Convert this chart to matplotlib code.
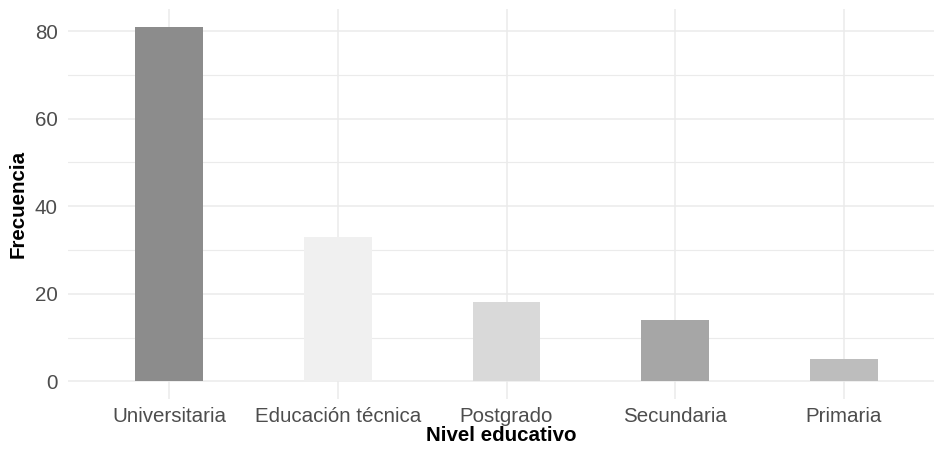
import matplotlib
matplotlib.use("Agg")
import matplotlib.pyplot as plt
import numpy as np

# data
niveles = ["Universitaria", "Educación técnica", "Postgrado", "Secundaria", "Primaria"]
frecuencia = [81, 33, 18, 14, 5]
colores = ["#8c8c8c", "#f0f0f0", "#d9d9d9", "#a6a6a6", "#bdbdbd"]
yticks = [0, 20, 40, 60, 80]
yminor = [10, 30, 50, 70]

plt.rcParams["font.family"] = ["Liberation Sans", "DejaVu Sans"]

fig = plt.figure(figsize=(9.34, 4.5), dpi=100)
ax = fig.add_axes([68 / 934, 1 - 399 / 450, (934 - 68) / 934, 390 / 450])

x = np.arange(1, len(niveles) + 1)
ax.bar(x, frecuencia, width=0.4, color=colores, zorder=2)

ax.set_xlim(0.4, 5 + (934 - 844) / 168.5)
ax.set_ylim(-0.05 * max(frecuencia), 1.05 * max(frecuencia))
ax.set_xticks(x)
ax.set_xticklabels(niveles)
ax.set_yticks(yticks)
ax.set_yticks(yminor, minor=True)

ax.grid(True, which="major", color="#ebebeb", linewidth=1.1, zorder=0)
ax.grid(True, which="minor", axis="y", color="#ebebeb", linewidth=0.8, zorder=0)
for s in ax.spines.values():
    s.set_visible(False)
ax.tick_params(axis="both", which="both", length=0, labelsize=14.8, labelcolor="#4d4d4d")
ax.tick_params(axis="x", pad=6)
ax.tick_params(axis="y", pad=7.5)

ax.set_xlabel("Nivel educativo", fontsize=14.8, fontweight="bold", labelpad=0)
ax.set_ylabel("Frecuencia", fontsize=14.8, fontweight="bold", labelpad=5)

fig.savefig("out.png", dpi=100)
